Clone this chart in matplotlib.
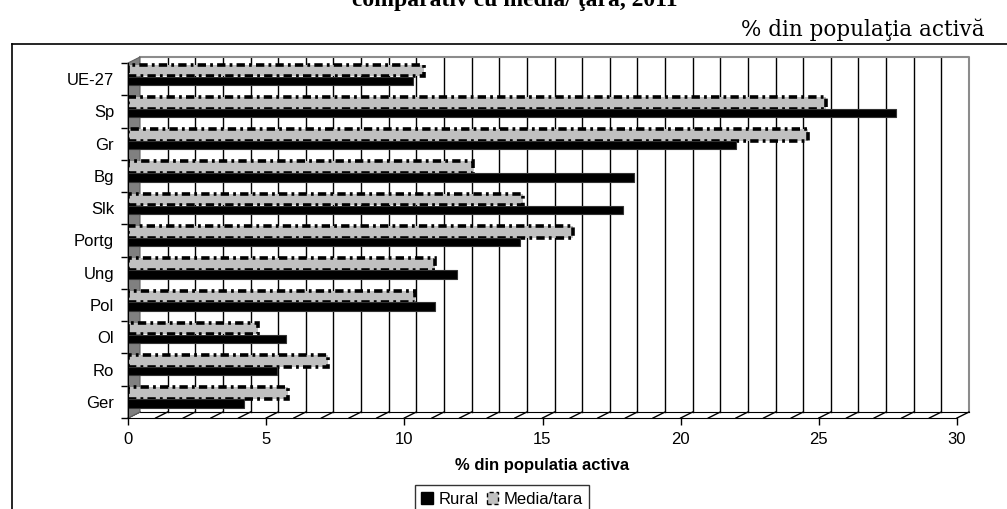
import matplotlib
matplotlib.use("Agg")
import matplotlib.pyplot as plt
import numpy as np
from matplotlib.transforms import ScaledTranslation
from matplotlib.patches import Polygon, Patch
from matplotlib.lines import Line2D

plt.rcParams['lines.scale_dashes'] = False

categories = ["Ger", "Ro", "Ol", "Pol", "Ung", "Portg", "Slk", "Bg", "Gr", "Sp", "UE-27"]
rural = [4.2, 5.4, 5.7, 11.1, 11.9, 14.2, 17.9, 18.3, 22.0, 27.8, 10.3]
media = [5.8, 7.25, 4.7, 10.4, 11.1, 16.1, 14.3, 12.5, 24.6, 25.25, 10.7]
xticks = [0, 5, 10, 15, 20, 25, 30]
xlabel = "% din populatia activa"
unit_text = "% din populaţia activă"
title_text = "comparativ cu media/ ţara, 2011"
legend_labels = ["Rural", "Media/tara"]

W, H = 1007, 509
fig = plt.figure(figsize=(W / 100, H / 100), dpi=100)
fig.patch.set_facecolor("white")

# axes (front plane)
x0, x1, ytop, ybot = 128, 957, 63, 418
ax = fig.add_axes([x0 / W, 1 - ybot / H, (x1 - x0) / W, (ybot - ytop) / H])
ax.set_facecolor("none")
ax.set_xlim(0, 30)
ax.set_ylim(-0.5, 10.5)

# back-plane offset transform (3D depth)
off = ScaledTranslation(0.12, 0.06, fig.dpi_scale_trans)
tback = ax.transData + off

# back wall gridlines
for xv in range(1, 30):
    ax.plot([xv, xv], [-0.5, 10.5], color="black", lw=1.0, transform=tback,
            clip_on=False, zorder=1)
# back wall border (gray)
ax.plot([0, 30, 30], [10.5, 10.5, -0.5], color="#8c8c8c", lw=1.5,
        transform=tback, clip_on=False, zorder=1)

# floor diagonals and back floor line
ax.plot([0, 30], [-0.5, -0.5], color="black", lw=0.8, transform=tback,
        clip_on=False, zorder=1)
for xv in range(0, 31):
    p0 = ax.transData.transform((xv, -0.5))
    p1 = tback.transform((xv, -0.5))
    ln = Line2D([p0[0] / W, p1[0] / W], [p0[1] / H, p1[1] / H],
                color="black", lw=1.0, transform=fig.transFigure, zorder=1.5)
    ln.set_clip_on(False)
    ax.add_artist(ln)

# left wall (gray)
pts = [ax.transData.transform((0, -0.5)), ax.transData.transform((0, 10.5)),
       tback.transform((0, 10.5)), tback.transform((0, -0.5))]
pts = [(p[0] / W, p[1] / H) for p in pts]
wall = Polygon(pts, closed=True, facecolor="#808080", edgecolor="#606060",
               lw=0.8, transform=fig.transFigure, zorder=2)
wall.set_clip_on(False)
ax.add_artist(wall)

y = np.arange(len(categories))
# Media/tara bars (gray with dashed black edges)
ax.barh(y + 0.27, media, height=0.36, color="#c0c0c0", edgecolor="black",
        linewidth=2.6, linestyle=(0, (6, 3, 2, 3)), zorder=4)
# Rural bars (black)
ax.barh(y - 0.05, rural, height=0.26, color="black", edgecolor="#333333",
        linewidth=0.8, zorder=5)

# axes styling
for s in ["top", "right"]:
    ax.spines[s].set_visible(False)
ax.spines["left"].set_color("black")
ax.spines["bottom"].set_color("black")
ax.spines["left"].set_zorder(6)
ax.set_xticks(xticks)
ax.set_xticklabels([str(t) for t in xticks], fontsize=12, family="Liberation Sans")
ax.tick_params(axis="x", direction="out", length=5, width=1, pad=5)
ax.set_yticks(y)
ax.set_yticklabels(categories, fontsize=12, family="Liberation Sans")
ax.set_yticks(np.arange(-0.5, 11, 1.0), minor=True)
ax.tick_params(axis="y", which="major", length=0, pad=10)
ax.tick_params(axis="y", which="minor", direction="out", length=5, width=1)
ax.set_xlabel(xlabel, fontsize=12, fontweight="bold", family="Liberation Sans",
              labelpad=8)

# legend
handles = [Patch(facecolor="black", edgecolor="black"),
           Patch(facecolor="#c0c0c0", edgecolor="black", linestyle=(0, (3, 2)))]
leg = fig.legend(handles, legend_labels, loc="upper center",
                 bbox_to_anchor=(502 / W, 1 - 485 / H), ncol=2, frameon=True,
                 fancybox=False, shadow=False, prop={"family": "Liberation Sans", "size": 12},
                 handlelength=0.7, handleheight=0.7, handletextpad=0.3,
                 columnspacing=0.5, borderpad=0.4, borderaxespad=0)
leg.get_frame().set_edgecolor("black")
leg.get_frame().set_linewidth(1.0)

# outer chart frame
fig.add_artist(Line2D([12 / W, 12 / W], [0, 1 - 44 / H], color="black", lw=1.2))
fig.add_artist(Line2D([12 / W, 1.0], [1 - 44 / H, 1 - 44 / H], color="black", lw=1.2))

# top texts
fig.text(985 / W, 1 - 36 / H, unit_text, ha="right", va="baseline",
         fontsize=15.5, family="DejaVu Serif")
fig.text(515 / W, 1 - 6 / H, title_text, ha="center", va="baseline",
         fontsize=17, fontweight="bold", family="Liberation Serif")

fig.savefig("out.png", dpi=100)
